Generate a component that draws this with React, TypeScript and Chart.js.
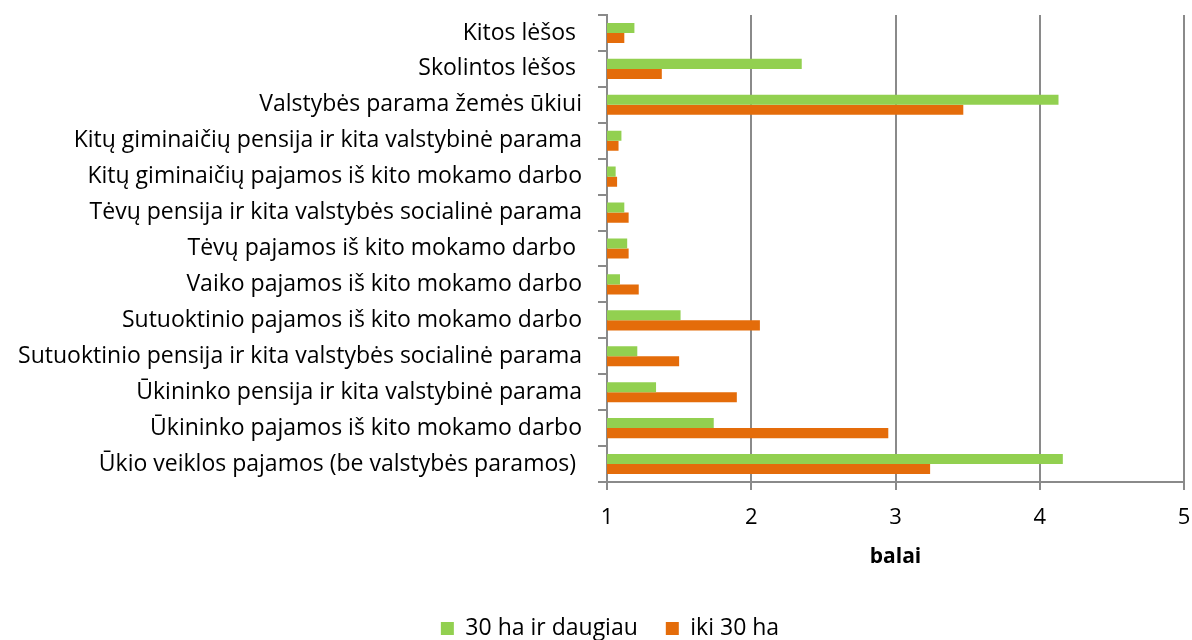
import React, { useEffect, useRef } from "react";
import { Chart, registerables } from "chart.js";

Chart.register(...registerables);

const categories = [
  "Kitos lėšos ",
  "Skolintos lėšos ",
  "Valstybės parama žemės ūkiui",
  "Kitų giminaičių pensija ir kita valstybinė parama",
  "Kitų giminaičių pajamos iš kito mokamo darbo",
  "Tėvų pensija ir kita valstybės socialinė parama",
  "Tėvų pajamos iš kito mokamo darbo ",
  "Vaiko pajamos iš kito mokamo darbo",
  "Sutuoktinio pajamos iš kito mokamo darbo",
  "Sutuoktinio pensija ir kita valstybės socialinė parama",
  "Ūkininko pensija ir kita valstybinė parama",
  "Ūkininko pajamos iš kito mokamo darbo",
  "Ūkio veiklos pajamos (be valstybės paramos) ",
];

const seriesNames = ["30 ha ir daugiau", "iki 30 ha"];

const over30 = [1.19, 2.35, 4.13, 1.1, 1.06, 1.12, 1.14, 1.09, 1.51, 1.21, 1.34, 1.74, 4.16];
const under30 = [1.12, 1.38, 3.47, 1.08, 1.07, 1.15, 1.15, 1.22, 2.06, 1.5, 1.9, 2.95, 3.24];

const xTicks = [1, 2, 3, 4, 5];
const xTitle = "balai";

const FONT = "'Open Sans', 'Noto Sans', sans-serif";

const legendShift = {
  id: "legendShift",
  afterLayout(chart: any) {
    if (chart.legend) {
      chart.legend.left += 18;
      chart.legend.right += 18;
    }
  },
};

export default function App() {
  const ref = useRef<HTMLCanvasElement | null>(null);

  useEffect(() => {
    if (!ref.current) return;
    const chart = new Chart(ref.current, {
      type: "bar",
      data: {
        labels: categories,
        datasets: [
          {
            label: seriesNames[0],
            data: over30,
            backgroundColor: "#92d050",
            borderWidth: 0,
          },
          {
            label: seriesNames[1],
            data: under30,
            backgroundColor: "#e46c0a",
            borderWidth: 0,
          },
        ],
      },
      plugins: [legendShift],
      options: {
        indexAxis: "y",
        responsive: false,
        animation: false,
        maintainAspectRatio: false,
        layout: { padding: { top: 15, right: 8, left: 0, bottom: -10 } },
        datasets: {
          bar: { barPercentage: 1, categoryPercentage: 0.56 },
        },
        scales: {
          x: {
            type: "linear",
            min: xTicks[0],
            max: xTicks[xTicks.length - 1],
            afterBuildTicks: (scale: any) => {
              scale.ticks = xTicks.map((v) => ({ value: v }));
            },
            ticks: {
              color: "#000",
              font: { family: FONT, size: 22 },
              padding: 15,
            },
            grid: {
              color: "#8a8a8a",
              lineWidth: 2,
              tickLength: 8,
            },
            border: { display: true, color: "#8a8a8a", width: 2 },
            title: {
              display: true,
              text: xTitle,
              color: "#000",
              font: { family: FONT, size: 21, weight: "bold" },
              padding: { top: 12, bottom: 19 },
            },
            afterFit: (scale: any) => {
              scale.height = 107;
              scale.paddingLeft = 0;
              scale.paddingRight = 0;
            },
          },
          y: {
            type: "category",
            ticks: {
              color: "#000",
              font: { family: FONT, size: 23 },
              padding: 16,
              autoSkip: false,
            },
            grid: {
              offset: true,
              drawOnChartArea: false,
              drawTicks: true,
              tickLength: 9,
              color: "#8a8a8a",
              lineWidth: 2,
            },
            border: { display: true, color: "#8a8a8a", width: 2 },
            afterFit: (scale: any) => {
              scale.width = 607;
              scale.paddingTop = 0;
              scale.paddingBottom = 0;
            },
          },
        },
        plugins: {
          legend: {
            position: "bottom",
            labels: {
              color: "#000",
              font: { family: FONT, size: 23 },
              boxWidth: 13,
              boxHeight: 13,
              padding: 28,
            },
          },
          tooltip: { enabled: false },
        },
      },
    });
    return () => chart.destroy();
  }, []);

  return (
    <div style={{ position: "fixed", left: 0, top: 0, width: 1192, height: 640, background: "#fff" }}>
      <canvas ref={ref} width={1192} height={640} style={{ display: "block" }} />
    </div>
  );
}
